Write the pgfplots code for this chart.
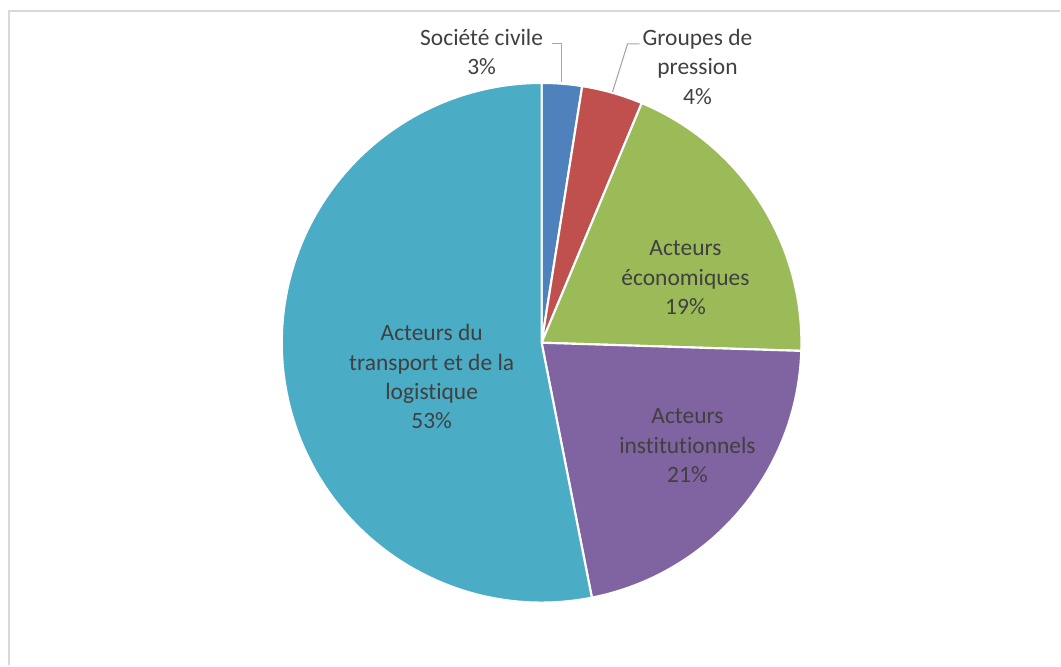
\documentclass[border=0pt]{standalone}
\usepackage{pgfplots}
\pgfplotsset{compat=1.18}
\usepackage{pgfplotstable}
\usepackage{fontspec}
\setmainfont{Carlito}[Ligatures={NoCommon}]

\definecolor{sBlue}{HTML}{4F81BD}
\definecolor{sRed}{HTML}{C0504D}
\definecolor{sGreen}{HTML}{9BBB59}
\definecolor{sPurple}{HTML}{8064A2}
\definecolor{sTeal}{HTML}{4BACC6}
\definecolor{txt}{HTML}{404040}
\definecolor{framegray}{HTML}{D9D9D9}
\definecolor{leader}{HTML}{A6A6A6}

\tikzset{
    lbl/.style={align=center, text=txt, inner sep=0pt,
        font=\fontsize{17.6}{22}\selectfont},
    wedge/.style={draw=white, line width=1.6pt, line join=round},
}

% shares in percent, clockwise from 12 o'clock
\pgfplotstableread{
share
2.5
3.8
19.2
21.4
53.1
}\piedata

\begin{document}
\begin{tikzpicture}
% end angle of each slice
\pgfplotstablegetelem{0}{share}\of\piedata \pgfmathsetmacro\aA{90-3.6*\pgfplotsretval}
\pgfplotstablegetelem{1}{share}\of\piedata \pgfmathsetmacro\aB{\aA-3.6*\pgfplotsretval}
\pgfplotstablegetelem{2}{share}\of\piedata \pgfmathsetmacro\aC{\aB-3.6*\pgfplotsretval}
\pgfplotstablegetelem{3}{share}\of\piedata \pgfmathsetmacro\aD{\aC-3.6*\pgfplotsretval}
\pgfplotstablegetelem{4}{share}\of\piedata \pgfmathsetmacro\aE{\aD-3.6*\pgfplotsretval}
\def\R{195pt}
\begin{axis}[
    width=795.75pt, height=499.5pt, scale only axis,
    xmin=0, xmax=1061, ymin=0, ymax=666,
    hide axis, clip=false,
]
\path (axis cs:0,0) rectangle (axis cs:1061,666);
\draw[framegray, line width=1.2pt] (axis cs:9,0) -- (axis cs:9,655) -- (axis cs:1061,655);
\coordinate (c) at (axis cs:542,323);

\fill[sBlue, wedge]   (c) -- ++(90:\R)  arc[start angle=90,  end angle=\aA, radius=\R] -- cycle;
\fill[sRed, wedge]    (c) -- ++(\aA:\R) arc[start angle=\aA, end angle=\aB, radius=\R] -- cycle;
\fill[sGreen, wedge]  (c) -- ++(\aB:\R) arc[start angle=\aB, end angle=\aC, radius=\R] -- cycle;
\fill[sPurple, wedge] (c) -- ++(\aC:\R) arc[start angle=\aC, end angle=\aD, radius=\R] -- cycle;
\fill[sTeal, wedge]   (c) -- ++(\aD:\R) arc[start angle=\aD, end angle=\aE, radius=\R] -- cycle;

\draw[leader, line width=0.8pt] (axis cs:552,622) -- (axis cs:562,622) -- (axis cs:562,584);
\draw[leader, line width=0.8pt] (axis cs:640,622) -- (axis cs:628,622) -- (axis cs:613,574);

\node[lbl] at (axis cs:482,614) {Société civile\\3\%};
\node[lbl] at (axis cs:698,599) {Groupes de\\pression\\4\%};
\node[lbl] at (axis cs:686,388) {Acteurs\\économiques\\19\%};
\node[lbl] at (axis cs:688,220) {Acteurs\\institutionnels\\21\%};
\node[lbl] at (axis cs:432,289) {Acteurs du\\transport et de la\\logistique\\53\%};
\end{axis}
\end{tikzpicture}
\end{document}
